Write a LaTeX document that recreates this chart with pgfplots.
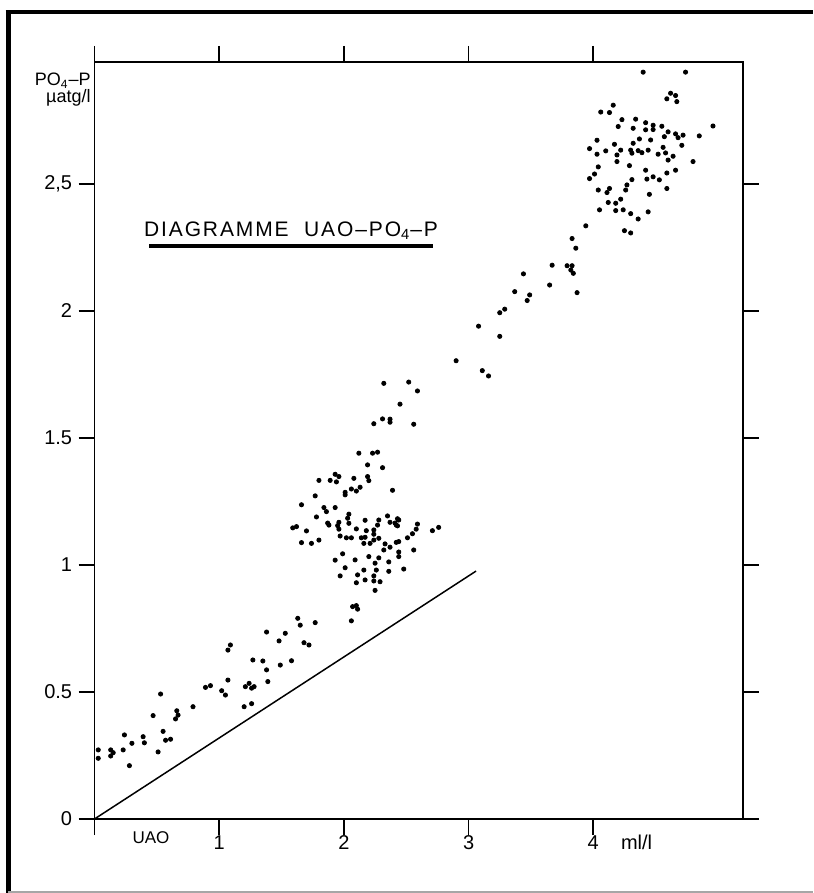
\documentclass[border=0pt]{standalone}
\usepackage{pgfplots}
\pgfplotsset{compat=1.18}
\usepackage{fontspec}
\setmainfont{Liberation Sans}

% UAO (ml/l) against PO4-P (micro-atg/l)
\pgfplotstableread{
x y
0.03 0.272
0.03 0.239
0.13 0.272
0.13 0.248
0.15 0.261
0.23 0.272
0.24 0.331
0.28 0.210
0.30 0.298
0.39 0.324
0.40 0.300
0.47 0.407
0.51 0.264
0.53 0.492
0.55 0.345
0.57 0.310
0.61 0.314
0.65 0.394
0.66 0.426
0.67 0.409
0.79 0.442
0.89 0.518
0.93 0.525
1.02 0.505
1.05 0.488
1.07 0.547
1.07 0.665
1.09 0.685
1.21 0.521
1.20 0.442
1.24 0.534
1.26 0.515
1.28 0.521
1.26 0.454
1.27 0.626
1.35 0.622
1.38 0.587
1.39 0.541
1.48 0.701
1.49 0.606
1.58 0.623
1.68 0.694
1.72 0.685
1.38 0.736
1.53 0.731
1.63 0.790
1.65 0.763
1.77 0.773
2.06 0.780
2.07 0.836
2.10 0.840
2.11 0.826
1.66 1.237
1.59 1.146
1.62 1.151
1.66 1.088
1.70 1.134
1.74 1.085
1.80 1.098
1.77 1.272
1.78 1.189
1.80 1.333
1.84 1.226
1.86 1.210
1.89 1.333
1.93 1.357
1.94 1.327
1.96 1.348
1.93 1.226
1.87 1.165
1.88 1.157
1.95 1.155
1.96 1.168
1.96 1.141
1.97 1.114
2.01 1.286
2.01 1.276
2.02 1.107
2.03 1.184
2.04 1.200
2.04 1.164
2.06 1.299
2.06 1.107
2.08 1.341
2.10 1.291
2.10 1.142
2.13 1.306
2.12 1.440
2.14 1.107
2.17 1.109
2.16 1.085
2.17 1.176
2.18 1.135
2.19 1.348
2.20 1.332
2.19 1.394
2.21 1.085
2.23 1.440
2.27 1.444
2.24 1.138
2.24 1.121
2.24 1.098
2.27 1.157
2.28 1.177
2.28 1.105
2.31 1.383
2.33 1.083
2.35 1.193
2.37 1.168
2.37 1.070
2.39 1.294
2.41 1.165
2.42 1.157
2.43 1.182
2.44 1.177
2.43 1.154
2.42 1.089
2.44 1.092
2.32 1.059
2.44 1.051
2.44 1.033
2.51 1.107
2.55 1.123
2.58 1.141
2.59 1.161
2.56 1.059
2.48 0.984
2.36 1.012
2.36 0.975
2.28 1.028
2.25 1.007
2.20 1.033
2.26 0.980
2.24 0.957
2.24 0.937
2.29 0.934
2.25 0.900
2.17 0.941
2.16 0.980
2.11 0.961
2.10 0.930
2.09 1.020
2.01 0.989
1.99 1.044
1.93 1.019
1.97 0.957
2.71 1.135
2.76 1.148
2.24 1.556
2.31 1.575
2.37 1.574
2.37 1.562
2.56 1.554
2.45 1.633
2.32 1.715
2.52 1.720
2.59 1.685
2.90 1.804
3.11 1.765
3.16 1.744
3.08 1.940
3.25 1.900
3.25 1.993
3.29 2.007
3.37 2.076
3.47 2.041
3.49 2.063
3.44 2.146
3.65 2.102
3.67 2.180
3.79 2.178
3.83 2.178
3.82 2.161
3.84 2.148
3.87 2.072
3.83 2.285
3.86 2.247
3.94 2.335
4.25 2.316
4.30 2.307
4.05 2.398
4.18 2.395
4.24 2.398
4.30 2.383
4.36 2.362
4.44 2.390
4.22 2.440
4.18 2.424
4.12 2.427
4.45 2.459
4.04 2.476
4.11 2.466
4.13 2.482
4.59 2.482
4.27 2.496
4.26 2.476
4.31 2.517
4.42 2.554
4.43 2.519
4.48 2.528
4.53 2.516
4.59 2.543
4.66 2.554
4.01 2.539
3.97 2.521
4.04 2.567
4.29 2.572
4.80 2.588
4.52 2.617
4.58 2.622
4.64 2.609
4.60 2.594
4.03 2.617
4.19 2.614
4.19 2.588
4.10 2.630
4.22 2.633
4.30 2.633
4.31 2.621
4.36 2.631
4.39 2.623
4.44 2.633
3.97 2.639
4.56 2.644
4.71 2.652
4.32 2.660
4.17 2.656
4.03 2.672
4.37 2.677
4.46 2.673
4.57 2.686
4.85 2.689
4.60 2.705
4.66 2.697
4.68 2.682
4.72 2.692
4.96 2.728
4.20 2.726
4.32 2.719
4.42 2.713
4.48 2.714
4.42 2.741
4.48 2.731
4.55 2.727
4.23 2.753
4.34 2.755
4.06 2.783
4.13 2.781
4.16 2.810
4.62 2.857
4.66 2.848
4.59 2.835
4.67 2.824
4.40 2.940
4.74 2.940
}\uaotable

\begin{document}
\begin{tikzpicture}
\path[use as bounding box] (0,0) rectangle (406.5pt,446.5pt);
% page frame
\draw[line width=2.5pt] (4pt,0) -- (4pt,440.5pt);
\draw[line width=2pt] (2.75pt,440.5pt) -- (406.5pt,440.5pt);
\draw[line width=0.6pt, black!35] (4pt,0.5pt) -- (406.5pt,0.5pt);
\begin{axis}[
  at={(47.25pt,37pt)}, anchor=south west,
  scale only axis, width=324.2pt, height=378.5pt,
  xmin=0, xmax=5.2, ymin=0, ymax=2.98,
  xtick={0,1,2,3,4}, xticklabels={,1,2,3,4},
  ytick={0,0.5,1,1.5,2,2.5}, yticklabels={0,0.5,1,1.5,2,{2,5}},
  tick align=outside, major tick length=8pt,
  axis line style={line width=0.9pt},
  every tick/.style={black, line width=0.9pt},
  ticklabel style={font=\fontsize{10}{12}\selectfont},
  xticklabel style={inner sep=0pt},
  yticklabel style={inner sep=3pt},
]
\addplot[only marks, mark=*, mark size=1.05pt, black] table[x=x, y=y] {\uaotable};
\addplot[black, line width=0.75pt] coordinates {(0,0) (3.06,0.976)};
\end{axis}
% axis captions
\node[anchor=north east, align=right, inner sep=0pt, font=\fontsize{9}{8.5}\selectfont] at (45.5pt,410pt) {PO\textsubscript{4}–P\\µatg/l};
\node[font=\fontsize{8.5}{10}\selectfont] at (75.5pt,27.5pt) {UAO};
\node[anchor=west, font=\fontsize{10}{12}\selectfont] at (307pt,25.5pt) {ml/l};
% diagram title
\node[font=\fontsize{10.5}{12}\selectfont\addfontfeature{LetterSpace=9}] at (145.5pt,331pt) {DIAGRAMME\ \ UAO–PO\textsubscript{4}–P};
\draw[line width=1.75pt] (74.5pt,323.5pt) -- (216.5pt,323.5pt);
\end{tikzpicture}
\end{document}
